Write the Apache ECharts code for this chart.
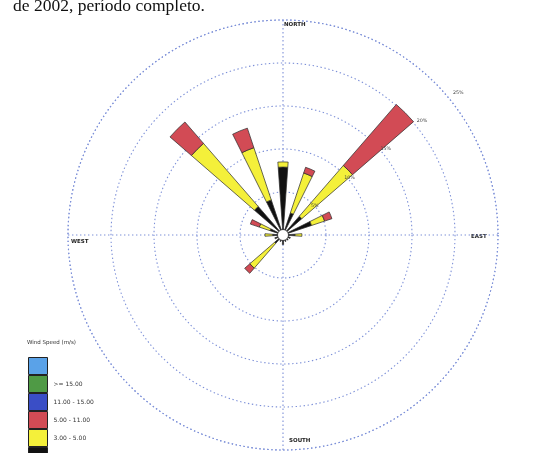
<!DOCTYPE html>
<html>
<head>
<meta charset="utf-8">
<script src="https://cdn.jsdelivr.net/npm/echarts@6/dist/echarts.min.js"></script>
<style>
  html, body { margin: 0; padding: 0; background: #ffffff; }
  #chart { width: 557px; height: 453px; }
</style>
</head>
<body>
<div id="chart"></div>
<script>
// Wind rose: frequency (%) of wind by direction, stacked by speed class
const directions = ['N', 'NNE', 'NE', 'ENE', 'E', 'ESE', 'SE', 'SSE',
                    'S', 'SSW', 'SW', 'WSW', 'W', 'WNW', 'NW', 'NNW'];

// speed classes, top of the legend first
const speedClasses = ['>= 20.00', '>= 15.00', '11.00 - 15.00', '5.00 - 11.00', '3.00 - 5.00', '1.00 - 3.00'];
const classColors  = ['#5aa2e8', '#4f9a45', '#3a4ec6', '#d24b55', '#f4f03a', '#111111'];

// frequency (%) per direction for each class
const freqBlack  = [7.9, 2.7, 2.9, 3.5, 1.4, 0.9, 0.8, 0.8, 1.1, 0.8, 1.3, 1.0, 1.2, 1.6, 4.4, 4.3];
const freqYellow = [0.6, 4.9, 7.8, 1.6, 0.8, 0, 0, 0, 0, 0, 3.8, 0, 0.9, 1.3, 9.7, 6.4];
const freqRed    = [0, 0.7, 9.4, 0.9, 0, 0, 0, 0, 0, 0, 0.8, 0, 0, 1.1, 3.3, 2.4];
const freqBlue   = [0, 0, 0, 0, 0, 0, 0, 0, 0, 0, 0, 0, 0, 0, 0, 0];
const freqGreen  = [0, 0, 0, 0, 0, 0, 0, 0, 0, 0, 0, 0, 0, 0, 0, 0];
const freqSky    = [0, 0, 0, 0, 0, 0, 0, 0, 0, 0, 0, 0, 0, 0, 0, 0];

const ringTicks = [5, 10, 15, 20, 25];
const compassLabels = ['NORTH', 'EAST', 'SOUTH', 'WEST'];

const CENTER = [283, 235];
const RADIUS = 215;
const gridColor = '#7d90d8';
const gridLine = { color: gridColor, width: 1.1, type: [1.4, 2.6] };

const chart = echarts.init(document.getElementById('chart'), null, { renderer: 'canvas' });

// stacked series, slowest class innermost
const stackOrder = [
  { name: speedClasses[5], color: classColors[5], data: freqBlack },
  { name: speedClasses[4], color: classColors[4], data: freqYellow },
  { name: speedClasses[3], color: classColors[3], data: freqRed },
  { name: speedClasses[2], color: classColors[2], data: freqBlue },
  { name: speedClasses[1], color: classColors[1], data: freqGreen },
  { name: speedClasses[0], color: classColors[0], data: freqSky }
];

const barSeries = stackOrder.map(s => ({
  type: 'bar',
  name: s.name,
  coordinateSystem: 'polar',
  polarIndex: 1,
  stack: 'speed',
  barWidth: '36%',
  data: s.data.map(v => (v === 0 ? '-' : v)),
  itemStyle: { color: s.color, borderColor: '#2a2a2a', borderWidth: 0.7 },
  emphasis: { disabled: true },
  silent: true,
  z: 3
}));

const option = {
  backgroundColor: '#ffffff',
  animation: false,
  title: {
    text: 'Wind Speed (m/s)',
    left: 27,
    top: 340,
    padding: 0,
    textStyle: { fontSize: 5.5, fontWeight: 'normal', color: '#333', fontFamily: 'DejaVu Sans' }
  },
  legend: {
    orient: 'vertical',
    left: 28,
    top: 357,
    height: 200,
    padding: 0,
    itemGap: 0,
    itemWidth: 19,
    itemHeight: 17,
    icon: 'rect',
    selectedMode: false,
    data: speedClasses,
    formatter: name => (name === speedClasses[0] ? '' : name),
    itemStyle: { borderColor: '#222', borderWidth: 1 },
    textStyle: { fontSize: 6, color: '#333', fontFamily: 'DejaVu Sans', padding: [0, 0, 0, 1] }
  },
  polar: [
    { center: CENTER, radius: RADIUS },
    { center: CENTER, radius: RADIUS },
    // percentage labels sit just outside their rings
    { center: CENTER, radius: RADIUS * 1.07 }
  ],
  angleAxis: [
    {
      // compass spokes
      polarIndex: 0, type: 'value', min: 0, max: 360, interval: 90,
      startAngle: 90, clockwise: true,
      axisLine: { show: true, lineStyle: gridLine },
      axisTick: { show: false }, axisLabel: { show: false },
      splitLine: { show: true, lineStyle: gridLine }
    },
    {
      // direction categories for the petals, N centred at the top
      polarIndex: 1, type: 'category', data: directions,
      startAngle: 90 + 360 / directions.length / 2, clockwise: true,
      boundaryGap: true,
      axisLine: { show: false }, axisTick: { show: false }, axisLabel: { show: false },
      splitLine: { show: false }
    },
    {
      // carries the percentage labels along the NE diagonal
      polarIndex: 2, type: 'value', min: 0, max: 360,
      startAngle: 38, clockwise: true,
      axisLine: { show: false }, axisTick: { show: false }, axisLabel: { show: false },
      splitLine: { show: false }
    }
  ],
  radiusAxis: [
    {
      polarIndex: 0, type: 'value', min: 0, max: ringTicks[ringTicks.length - 1], interval: 5,
      axisLine: { show: false }, axisTick: { show: false }, axisLabel: { show: false },
      splitLine: { show: true, lineStyle: gridLine }
    },
    {
      polarIndex: 1, type: 'value', min: 0, max: ringTicks[ringTicks.length - 1],
      axisLine: { show: false }, axisTick: { show: false }, axisLabel: { show: false },
      splitLine: { show: false }
    },
    {
      polarIndex: 2, type: 'value', min: 0, max: ringTicks[ringTicks.length - 1], interval: 5,
      z: 10,
      axisLine: { show: false }, axisTick: { show: false },
      axisLabel: {
        show: true, margin: 1,
        formatter: v => (ringTicks.indexOf(v) >= 0 ? v + '%' : ''),
        fontSize: 4.8, color: '#444', fontFamily: 'DejaVu Sans'
      },
      splitLine: { show: false }
    }
  ],
  graphic: [
    {
      type: 'text', left: 13, top: -3, silent: true,
      style: { text: 'de 2002, período completo.', font: '17.5px "Liberation Serif"', fill: '#111' }
    },
    { type: 'text', x: 284, y: 22, silent: true,
      style: { text: compassLabels[0], font: 'bold 5.5px "DejaVu Sans"', fill: '#222' } },
    { type: 'text', x: 471, y: 234, silent: true,
      style: { text: compassLabels[1], font: 'bold 5.5px "DejaVu Sans"', fill: '#222' } },
    { type: 'text', x: 289, y: 438, silent: true,
      style: { text: compassLabels[2], font: 'bold 5.5px "DejaVu Sans"', fill: '#222' } },
    { type: 'text', x: 71, y: 239, silent: true,
      style: { text: compassLabels[3], font: 'bold 5.5px "DejaVu Sans"', fill: '#222' } }
  ],
  series: barSeries.concat([
    {
      // calm circle at the centre
      type: 'scatter',
      coordinateSystem: 'polar',
      polarIndex: 1,
      data: [[0, 0]],
      symbol: 'circle',
      symbolSize: 11,
      itemStyle: { color: '#ffffff', borderColor: '#222', borderWidth: 0.8, opacity: 1 },
      silent: true,
      z: 6
    }
  ])
};

chart.setOption(option);
</script>
</body>
</html>
